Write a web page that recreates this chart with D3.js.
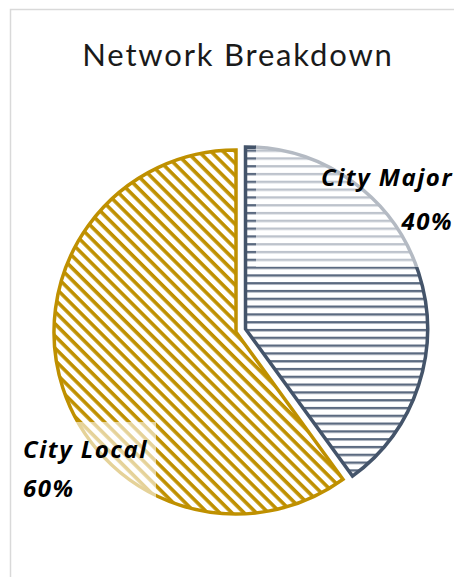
<!DOCTYPE html>
<html>
<head>
<meta charset="utf-8">
<script src="https://cdn.jsdelivr.net/npm/d3@7"></script>
<style>
  body { margin: 0; background: #fff; }
  svg { display: block; }
</style>
</head>
<body>
<svg id="chart" width="454" height="577"></svg>
<script>
// Network Breakdown pie (exploded "City Major" slice, hatched fills)

const categories = ["City Major", "City Local"];
const values = [40, 60];
const percentLabels = ["40%", "60%"];

const strokeColors = ["#44546A", "#BF9000"];
const hatchColors = ["#5b6a80", "#BF9000"];

const width = 454;
const height = 577;
const cx = 236;
const cy = 332;
const radius = 182;
const explode = 10;

const svg = d3.select("#chart");

// chart area border (right / bottom run off the picture)
svg.append("rect")
  .attr("x", 10.5)
  .attr("y", 9.5)
  .attr("width", 470)
  .attr("height", 600)
  .attr("fill", "#fff")
  .attr("stroke", "#d9d9d9")
  .attr("stroke-width", 1.5);

const defs = svg.append("defs");

// horizontal lines for City Major
const p0 = defs.append("pattern")
  .attr("id", "hatch-0")
  .attr("patternUnits", "userSpaceOnUse")
  .attr("width", 8)
  .attr("height", 7.8);
p0.append("rect").attr("width", 8).attr("height", 7.8).attr("fill", "#fff");
p0.append("rect").attr("y", 0).attr("width", 8).attr("height", 2.4).attr("fill", hatchColors[0]);

// wide downward diagonal for City Local
const p1 = defs.append("pattern")
  .attr("id", "hatch-1")
  .attr("patternUnits", "userSpaceOnUse")
  .attr("width", 8.6)
  .attr("height", 8.6)
  .attr("patternTransform", "rotate(45)");
p1.append("rect").attr("width", 8.6).attr("height", 8.6).attr("fill", "#fff");
p1.append("rect").attr("y", 0).attr("width", 8.6).attr("height", 3.6).attr("fill", hatchColors[1]);

// title
svg.append("text")
  .attr("x", 238)
  .attr("y", 66)
  .attr("text-anchor", "middle")
  .attr("font-family", "Lato, 'Open Sans', sans-serif")
  .attr("font-size", 31)
  .attr("letter-spacing", 1.8)
  .attr("fill", "#1a1a1a")
  .text("Network Breakdown");

const data = categories.map((c, i) => ({ name: c, value: values[i], label: percentLabels[i], i }));

const pie = d3.pie()
  .sort(null)
  .value(d => d.value)
  .startAngle(0)
  .endAngle(2 * Math.PI);

const arc = d3.arc()
  .innerRadius(0)
  .outerRadius(radius);

const arcs = pie(data);

const slices = svg.append("g")
  .attr("transform", `translate(${cx},${cy})`)
  .selectAll("g")
  .data(arcs)
  .join("g")
  .attr("transform", d => {
    if (d.data.i !== 0) return null;
    const mid = (d.startAngle + d.endAngle) / 2;
    return `translate(${Math.sin(mid) * explode},${-Math.cos(mid) * explode})`;
  });

slices.append("path")
  .attr("d", arc)
  .attr("fill", d => `url(#hatch-${d.data.i})`)
  .attr("stroke", d => strokeColors[d.data.i])
  .attr("stroke-width", 3.5)
  .attr("stroke-linejoin", "miter");

// data labels with a translucent white box behind them
const labelBoxes = [
  { x: 256, y: 142, w: 200, h: 125, tx: 453, ty: 186, dy: 44, anchor: "end" },
  { x: 14, y: 422, w: 142, h: 80, tx: 23, ty: 458, dy: 39, anchor: "start" }
];

const labels = svg.append("g")
  .selectAll("g")
  .data(data)
  .join("g");

labels.append("rect")
  .attr("x", d => labelBoxes[d.i].x)
  .attr("y", d => labelBoxes[d.i].y)
  .attr("width", d => labelBoxes[d.i].w)
  .attr("height", d => labelBoxes[d.i].h)
  .attr("fill", "#fff")
  .attr("fill-opacity", 0.6);

const txt = labels.append("text")
  .attr("x", d => labelBoxes[d.i].tx)
  .attr("y", d => labelBoxes[d.i].ty)
  .attr("text-anchor", d => labelBoxes[d.i].anchor)
  .attr("font-family", "'Open Sans', Lato, sans-serif")
  .attr("font-size", 24)
  .attr("letter-spacing", 1.5)
  .attr("font-weight", "bold")
  .attr("font-style", "italic")
  .attr("fill", "#000");

txt.append("tspan").text(d => d.name);
txt.append("tspan")
  .attr("x", d => labelBoxes[d.i].tx)
  .attr("dy", d => labelBoxes[d.i].dy)
  .text(d => d.label);
</script>
</body>
</html>
